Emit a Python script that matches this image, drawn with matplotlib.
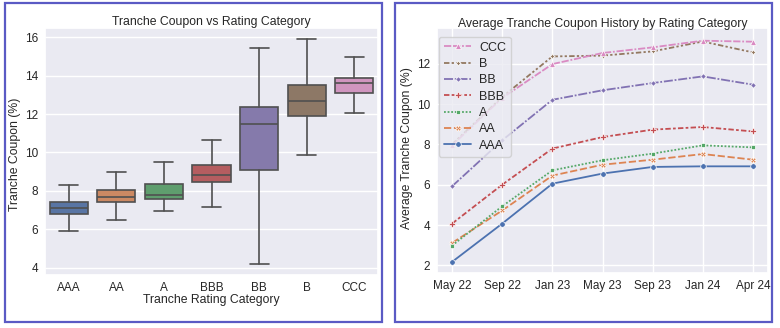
import colorsys
import matplotlib
matplotlib.use('Agg')
import matplotlib.pyplot as plt
import matplotlib.colors as mcolors
from matplotlib.patches import Rectangle
import seaborn as sns

sns.set_theme(style='darkgrid')
plt.rcParams['font.family'] = ['Liberation Sans', 'DejaVu Sans']

# ---- data ----
ratings = ['AAA', 'AA', 'A', 'BBB', 'BB', 'B', 'CCC']
box_low = [5.9, 6.49, 6.95, 7.18, 4.19, 9.89, 12.08]
box_q1 = [6.78, 7.4, 7.6, 8.48, 9.09, 11.9, 13.08]
box_med = [7.12, 7.7, 7.79, 8.83, 11.5, 12.67, 13.6]
box_q3 = [7.4, 8.04, 8.36, 9.35, 12.35, 13.52, 13.9]
box_high = [8.3, 9.0, 9.49, 10.65, 15.43, 15.91, 14.99]

dates = ['May 22', 'Sep 22', 'Jan 23', 'May 23', 'Sep 23', 'Jan 24', 'Apr 24']
hist_AAA = [2.17, 4.07, 6.05, 6.55, 6.88, 6.91, 6.91]
hist_AA = [3.11, 4.72, 6.45, 6.99, 7.24, 7.52, 7.24]
hist_A = [2.98, 4.93, 6.71, 7.21, 7.54, 7.95, 7.85]
hist_BBB = [4.07, 6.0, 7.79, 8.36, 8.73, 8.86, 8.64]
hist_BB = [5.92, 8.2, 10.21, 10.68, 11.04, 11.37, 10.96]
hist_B = [8.0, 10.35, 12.36, 12.4, 12.61, 13.1, 12.56]
hist_CCC = [7.95, 10.3, 11.98, 12.53, 12.81, 13.14, 13.09]

palette = sns.color_palette('deep', 7)


def desat(c, prop=0.75):
    h, l, s = colorsys.rgb_to_hls(*mcolors.to_rgb(c))
    return colorsys.hls_to_rgb(h, l, s * prop)


fig = plt.figure(figsize=(7.8, 3.28), dpi=100)
fig.patch.set_facecolor('white')

# panel frames
for x0, w in [(4.5 / 780, 377 / 780), (395 / 780, 377 / 780)]:
    fig.patches.append(Rectangle((x0, 6 / 328), w, 319 / 328, transform=fig.transFigure,
                                 fill=False, edgecolor='#5a5ac4', linewidth=1.6))

fs = 8.5

# ---- left: boxplot ----
ax1 = fig.add_axes([45 / 780, 53 / 328, 333 / 780, 247 / 328])
stats = []
for i, r in enumerate(ratings):
    stats.append(dict(label=r, whislo=box_low[i], q1=box_q1[i], med=box_med[i],
                      q3=box_q3[i], whishi=box_high[i], fliers=[]))
gray = '#505050'
bp = ax1.bxp(stats, positions=range(len(ratings)), widths=0.8, capwidths=0.4,
             patch_artist=True, showfliers=False,
             boxprops=dict(edgecolor=gray, linewidth=1.2),
             medianprops=dict(color=gray, linewidth=1.2),
             whiskerprops=dict(color=gray, linewidth=1.2),
             capprops=dict(color=gray, linewidth=1.2))
for patch, c in zip(bp['boxes'], palette):
    patch.set_facecolor(desat(c))
ax1.set_xlim(-0.5, 6.5)
ax1.set_ylim(3.62, 16.48)
ax1.set_yticks([4, 6, 8, 10, 12, 14, 16])
ax1.xaxis.grid(False)
ax1.tick_params(labelsize=fs, length=0, pad=5)
ax1.set_title('Tranche Coupon vs Rating Category', fontsize=fs + 0.3, pad=2.5)
ax1.set_xlabel('Tranche Rating Category', fontsize=fs + 0.3, labelpad=0)
ax1.set_ylabel('Tranche Coupon (%)', fontsize=fs + 0.3)
ax1.yaxis.set_label_coords(-0.072, 0.49)

# ---- right: line history ----
ax2 = fig.add_axes([437 / 780, 55 / 328, 331 / 780, 245 / 328])
series = [hist_AAA, hist_AA, hist_A, hist_BBB, hist_BB, hist_B, hist_CCC]
dashes = [(), (4, 1.5), (1, 1), (3, 1.25, 1.5, 1.25), (5, 1, 1, 1),
          (3, 1.25, 1.25, 1.25, 1.25, 1.25), (4, 1, 4, 1, 1, 1)]
markers = ['o', 'X', (4, 0, 45), 'P', (4, 0, 0), (4, 1, 0), '^']
xs = list(range(len(dates)))
for i, (r, vals) in enumerate(zip(ratings, series)):
    line, = ax2.plot(xs, vals, color=palette[i], linewidth=1.3, marker=markers[i],
                     markersize=4, markeredgecolor='white', markeredgewidth=0.5,
                     label=r)
    if dashes[i]:
        line.set_dashes(dashes[i])
ax2.set_xticks(xs)
ax2.set_xticklabels(dates)
ax2.set_xlim(-0.3, 6.3)
ax2.set_ylim(1.62, 13.77)
ax2.set_yticks([2, 4, 6, 8, 10, 12])
ax2.tick_params(labelsize=fs, length=0, pad=5)
ax2.set_title('Average Tranche Coupon History by Rating Category', fontsize=fs + 0.3, pad=0.5)
ax2.set_ylabel('Average Tranche Coupon (%)', fontsize=fs + 0.3)
ax2.yaxis.set_label_coords(-0.072, 0.51)
h, l = ax2.get_legend_handles_labels()
ax2.legend(h[::-1], l[::-1], loc='upper left', bbox_to_anchor=(0.006, 0.965),
           borderaxespad=0, fontsize=fs + 0.5, labelspacing=0.35,
           handlelength=2.2, handletextpad=0.6)

fig.savefig('out.png', dpi=100)
